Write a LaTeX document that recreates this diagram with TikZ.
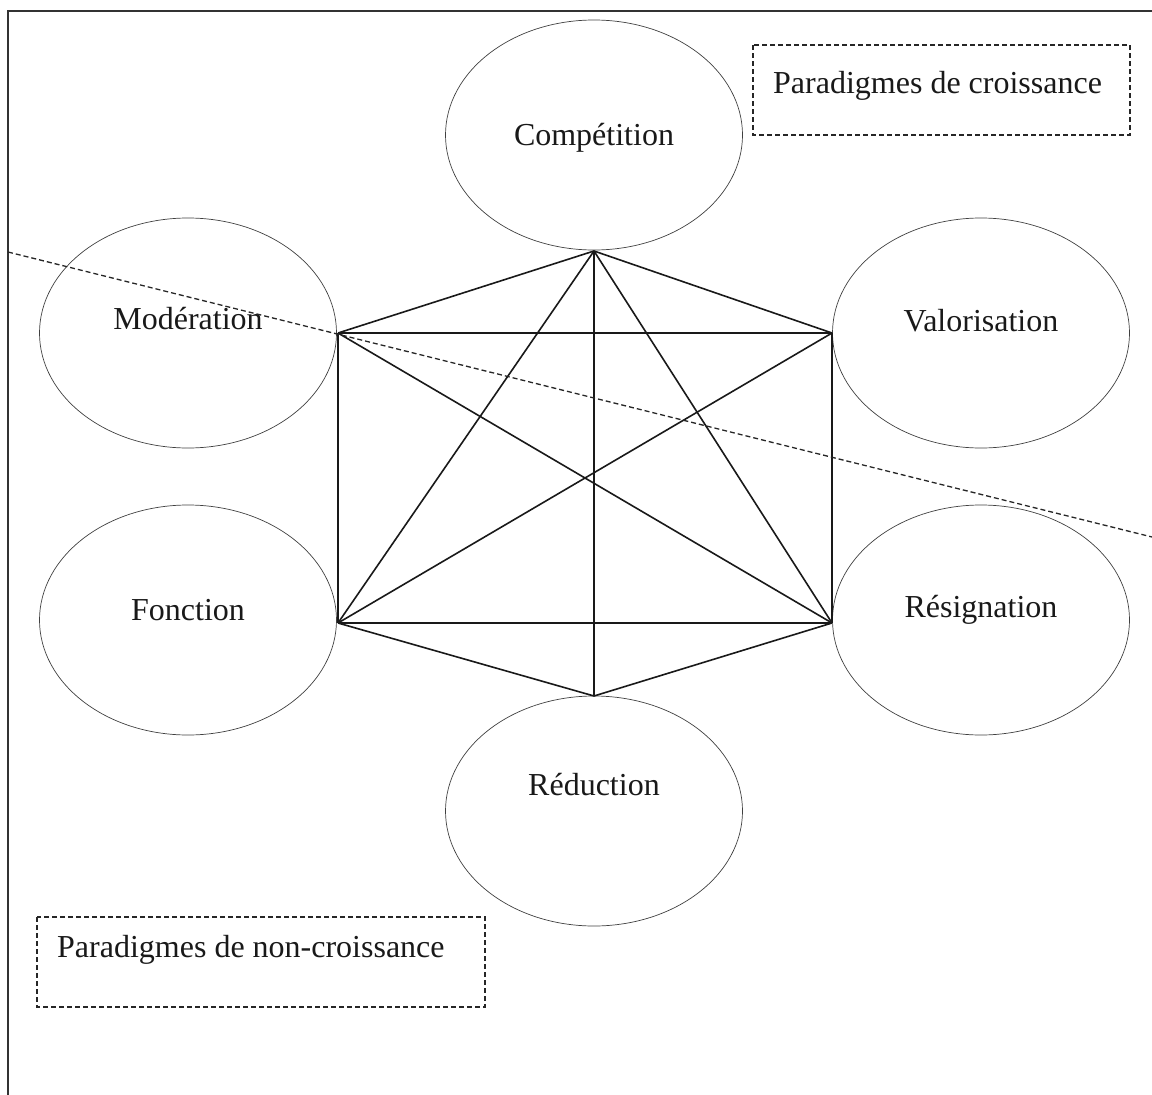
\documentclass[tikz,border=0pt]{standalone}
\usepackage{fontspec}
\setmainfont{Liberation Serif}
\usetikzlibrary{shapes.geometric}
\begin{document}
\begin{tikzpicture}[x=1pt,y=-1pt,
  oval/.style={draw=black!75,line width=0.7pt,ellipse,minimum width=297pt,minimum height=230pt,inner sep=0pt},
  txt/.style={font=\fontsize{32}{36}\selectfont,inner sep=0pt,text=black!90},
  edge/.style={draw=black!90,line width=1.6pt},
  dbox/.style={draw=black!85,line width=1.3pt,dash pattern=on 5pt off 3pt},
  lbl/.style={txt,anchor=base west}]
\useasboundingbox (0,0) rectangle (1152,1095);
% frame
\draw[line width=2pt,black!80] (8,1100) -- (8,11) -- (1160,11);
% ellipses
\node[oval] (comp) at (594,135) {};
\node[oval] (mod) at (188,333) {};
\node[oval] (val) at (981,333) {};
\node[oval] (fon) at (188,620) {};
\node[oval] (res) at (981,620) {};
\node[oval] (red) at (594,811) {};
\node[txt,anchor=base] (compt) at (594,145) {Compétition};
\node[txt,anchor=base] (modt) at (188,329) {Modération};
\node[txt,anchor=base] (valt) at (981,331) {Valorisation};
\node[txt,anchor=base] (font) at (188,620) {Fonction};
\node[txt,anchor=base] (rest) at (981,617) {Résignation};
\node[txt,anchor=base] (redt) at (594,795) {Réduction};
% hexagon vertices
\coordinate (T) at (594,251);
\coordinate (UL) at (338,333);
\coordinate (UR) at (832,333);
\coordinate (LL) at (338,623);
\coordinate (LR) at (832,623);
\coordinate (B) at (594,696);
\draw[edge] (T) -- (UL);
\draw[edge] (T) -- (UR);
\draw[edge] (T) -- (LL);
\draw[edge] (T) -- (LR);
\draw[edge] (T) -- (B);
\draw[edge] (UL) -- (UR);
\draw[edge] (UL) -- (LL);
\draw[edge] (UR) -- (LR);
\draw[edge] (UL) -- (LR);
\draw[edge] (UR) -- (LL);
\draw[edge] (LL) -- (LR);
\draw[edge] (LL) -- (B);
\draw[edge] (LR) -- (B);
% dashed separator
\coordinate (s1) at (8,252);
\coordinate (s2) at (1152,537);
\draw[dbox] (s1) -- (s2);
% dashed label boxes
\draw[dbox] (753,45) rectangle (1130,135);
\node[lbl] (pc) at (773,93) {Paradigmes de croissance};
\draw[dbox] (37,917) rectangle (485,1007);
\node[lbl] (pn) at (57,957) {Paradigmes de non-croissance};
\end{tikzpicture}
\end{document}
